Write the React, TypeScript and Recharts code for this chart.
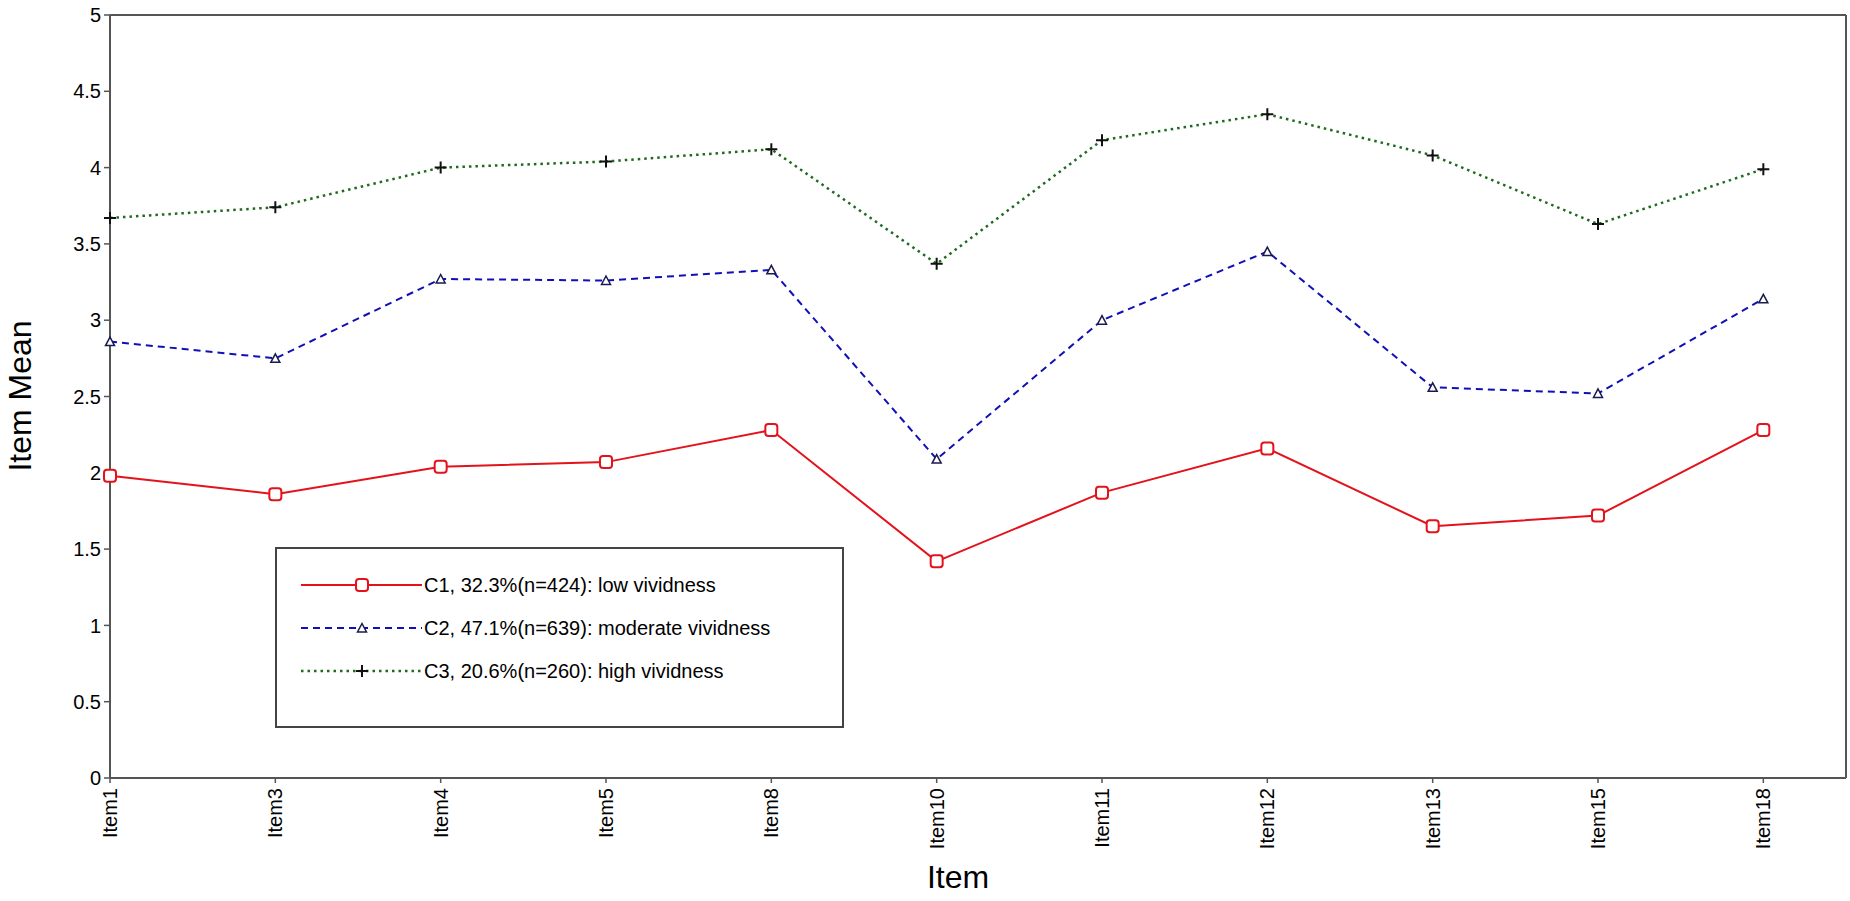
import { LineChart, Line, XAxis, YAxis, ReferenceLine, Legend, Label } from 'recharts';

const items = ['Item1', 'Item3', 'Item4', 'Item5', 'Item8', 'Item10', 'Item11', 'Item12', 'Item13', 'Item15', 'Item18'];
const c1Values = [1.98, 1.86, 2.04, 2.07, 2.28, 1.42, 1.87, 2.16, 1.65, 1.72, 2.28];
const c2Values = [2.86, 2.75, 3.27, 3.26, 3.33, 2.09, 3.0, 3.45, 2.56, 2.52, 3.14];
const c3Values = [3.67, 3.74, 4.0, 4.04, 4.12, 3.37, 4.18, 4.35, 4.08, 3.63, 3.99];
const yTicks = [0, 0.5, 1, 1.5, 2, 2.5, 3, 3.5, 4, 4.5, 5];
const seriesNames = [
  'C1, 32.3%(n=424): low vividness',
  'C2, 47.1%(n=639): moderate vividness',
  'C3, 20.6%(n=260): high vividness',
];

const data = items.map((item, i) => ({
  idx: i,
  item,
  c1: c1Values[i],
  c2: c2Values[i],
  c3: c3Values[i],
}));

const FONT = '"Liberation Sans", Arial, sans-serif';
const AXIS = '#555';

const RED = '#e3121b';
const BLUE = '#1010b8';
const GREEN = '#1f6a1f';

const squareMark = (cx: number, cy: number, key?: any) => (
  <rect key={key} x={cx - 6} y={cy - 6} width={12} height={12} rx={3} fill="#fff" stroke={RED} strokeWidth={2} />
);
const triangleMark = (cx: number, cy: number, key?: any) => (
  <path key={key} d={`M${cx - 4.5},${cy + 4} L${cx + 4.5},${cy + 4} L${cx},${cy - 4.5} Z`} fill="#fff" stroke="#1a1a50" strokeWidth={1.5} />
);
const plusMark = (cx: number, cy: number, key?: any) => (
  <path key={key} d={`M${cx - 6},${cy} H${cx + 6} M${cx},${cy - 6} V${cy + 6}`} stroke="#111" strokeWidth={2} fill="none" />
);

const series = [
  { key: 'c1', color: RED, dash: undefined, width: 2, mark: squareMark },
  { key: 'c2', color: BLUE, dash: '7 5', width: 2, mark: triangleMark },
  { key: 'c3', color: GREEN, dash: '2.5 4', width: 2.5, mark: plusMark },
];

const XTick = (props: any) => {
  const { x, y, payload } = props;
  return (
    <g transform={`translate(${x},${y})`}>
      <text
        transform="rotate(-90)"
        x={-3}
        y={0}
        dy="0.35em"
        textAnchor="end"
        fontFamily={FONT}
        fontSize={20}
        fill="#000"
      >
        {items[payload.value]}
      </text>
    </g>
  );
};

const LegendBox = () => (
  <div style={{ width: 569, height: 181, border: `2px solid #444`, boxSizing: 'border-box', background: '#fff' }}>
    <svg width={565} height={177}>
      {series.map((s, i) => {
        const y = 36 + i * 43;
        return (
          <g key={s.key}>
            <line x1={24} x2={145} y1={y} y2={y} stroke={s.color} strokeWidth={s.width} strokeDasharray={s.dash} />
            {s.mark(85, y)}
            <text x={147} y={y} dy="0.35em" fontFamily={FONT} fontSize={20} fill="#000">
              {seriesNames[i]}
            </text>
          </g>
        );
      })}
    </svg>
  </div>
);

export default function App() {
  return (
    <div style={{ position: 'absolute', left: 0, top: 0, width: 1850, height: 901, background: '#fff' }}>
      <LineChart width={1850} height={901} data={data} margin={{ top: 15, right: 4, left: 0, bottom: 0 }}>
        <XAxis
          dataKey="idx"
          type="number"
          domain={[0, 10.5]}
          ticks={items.map((_, i) => i)}
          interval={0}
          height={123}
          tick={<XTick />}
          tickSize={5}
          axisLine={{ stroke: AXIS, strokeWidth: 2 }}
          tickLine={{ stroke: AXIS, strokeWidth: 1.5 }}
        >
          <Label
            content={() => (
              <text x={958} y={888} textAnchor="middle" fontFamily={FONT} fontSize={32} fill="#000">
                Item
              </text>
            )}
          />
        </XAxis>
        <YAxis
          type="number"
          domain={[0, 5]}
          ticks={yTicks}
          interval={0}
          width={110}
          tickSize={6}
          tickMargin={3}
          tick={{ fontFamily: FONT, fontSize: 20, fill: '#000' }}
          axisLine={{ stroke: AXIS, strokeWidth: 2 }}
          tickLine={{ stroke: AXIS, strokeWidth: 1.5 }}
        >
          <Label
            content={() => (
              <text
                x={20}
                y={396}
                transform="rotate(-90 20 396)"
                dy="0.35em"
                textAnchor="middle"
                fontFamily={FONT}
                fontSize={32}
                fill="#000"
              >
                Item Mean
              </text>
            )}
          />
        </YAxis>
        <ReferenceLine y={5} stroke={AXIS} strokeWidth={2} />
        <ReferenceLine x={10.5} stroke={AXIS} strokeWidth={2} />
        {series.map((s) => (
          <Line
            key={s.key}
            dataKey={s.key}
            type="linear"
            stroke={s.color}
            strokeWidth={s.width}
            strokeDasharray={s.dash}
            dot={(p: any) => s.mark(p.cx, p.cy, `${s.key}-${p.index}`)}
            activeDot={false}
            isAnimationActive={false}
          />
        ))}
        <Legend
          layout="horizontal"
          verticalAlign="middle"
          align="center"
          content={<LegendBox />}
          wrapperStyle={{ left: 275, top: 547, width: 569, height: 181 }}
        />
      </LineChart>
    </div>
  );
}
